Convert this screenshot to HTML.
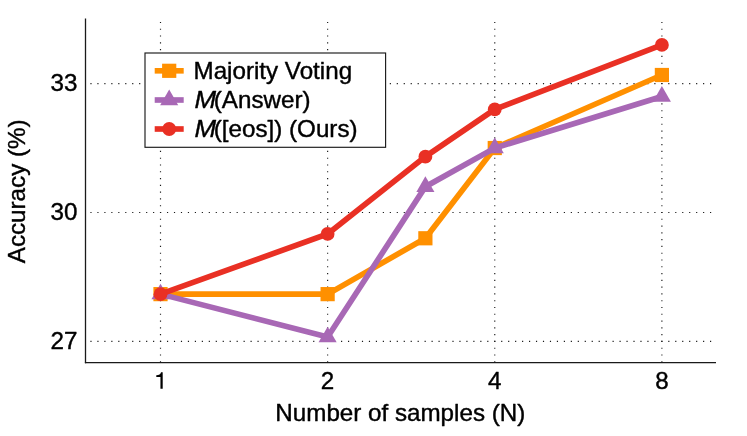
<!DOCTYPE html>
<html><head><meta charset="utf-8"><title>chart</title>
<style>
html,body{margin:0;padding:0;background:#fff;}
body{width:747px;height:436px;overflow:hidden;}
svg{display:block;}
text{font-family:"Liberation Sans",sans-serif;fill:#000;stroke:#000;stroke-width:0.4px;stroke-linejoin:round;}
svg{will-change:transform;}
g.t{opacity:0.999;}
</style></head><body>
<svg width="747" height="436" viewBox="0 0 747 436">
<rect width="747" height="436" fill="#fff"/>
<g stroke="#1a1a1a" fill="none">
<line x1="160.50" y1="362.35" x2="160.50" y2="18.6" stroke-width="1.16" stroke-dasharray="1.13 5.656"/>
<line x1="327.63" y1="362.35" x2="327.63" y2="18.6" stroke-width="1.16" stroke-dasharray="1.13 5.656"/>
<line x1="494.76" y1="362.35" x2="494.76" y2="18.6" stroke-width="1.16" stroke-dasharray="1.13 5.656"/>
<line x1="661.89" y1="362.35" x2="661.89" y2="18.6" stroke-width="1.16" stroke-dasharray="1.13 5.656"/>
<line x1="90.4" y1="341.40" x2="711.3" y2="341.40" stroke-width="1.13" stroke-dasharray="1.16 5.802"/>
<line x1="90.4" y1="212.49" x2="711.3" y2="212.49" stroke-width="1.13" stroke-dasharray="1.16 5.802"/>
<line x1="90.4" y1="83.58" x2="711.3" y2="83.58" stroke-width="1.13" stroke-dasharray="1.16 5.802"/>
</g>
<polyline points="160.50,294.13 327.63,294.13 425.39,238.27 494.76,148.03 661.89,74.99" fill="none" stroke="#FF9000" stroke-width="5.65" stroke-linejoin="miter" stroke-linecap="butt"/>
<rect x="153.40" y="287.03" width="14.20" height="14.20" fill="#FF9000"/>
<rect x="320.53" y="287.03" width="14.20" height="14.20" fill="#FF9000"/>
<rect x="418.29" y="231.17" width="14.20" height="14.20" fill="#FF9000"/>
<rect x="487.66" y="140.93" width="14.20" height="14.20" fill="#FF9000"/>
<rect x="654.79" y="67.89" width="14.20" height="14.20" fill="#FF9000"/>
<polyline points="160.50,294.13 327.63,337.10 425.39,186.71 494.76,148.03 661.89,96.47" fill="none" stroke="#A868B5" stroke-width="5.65" stroke-linejoin="miter" stroke-linecap="butt"/>
<polygon points="160.50,283.68 151.45,299.36 169.55,299.36" fill="#A868B5"/>
<polygon points="327.63,326.65 318.58,342.33 336.68,342.33" fill="#A868B5"/>
<polygon points="425.39,176.26 416.34,191.93 434.44,191.93" fill="#A868B5"/>
<polygon points="494.76,137.58 485.71,153.26 503.81,153.26" fill="#A868B5"/>
<polygon points="661.89,86.02 652.84,101.70 670.94,101.70" fill="#A868B5"/>
<polyline points="160.50,294.13 327.63,233.97 425.39,156.63 494.76,109.36 661.89,44.91" fill="none" stroke="#E93024" stroke-width="5.65" stroke-linejoin="miter" stroke-linecap="butt"/>
<circle cx="160.50" cy="294.13" r="6.90" fill="#E93024"/>
<circle cx="327.63" cy="233.97" r="6.90" fill="#E93024"/>
<circle cx="425.39" cy="156.63" r="6.90" fill="#E93024"/>
<circle cx="494.76" cy="109.36" r="6.90" fill="#E93024"/>
<circle cx="661.89" cy="44.91" r="6.90" fill="#E93024"/>
<line x1="85.5" y1="18.6" x2="85.5" y2="363.15000000000003" stroke="#1a1a1a" stroke-width="1.3"/>
<line x1="84.9" y1="362.55" x2="716" y2="362.55" stroke="#1a1a1a" stroke-width="1.3"/>
<text transform="translate(327.6,389) scale(1.043,1)" font-size="23.2" text-anchor="middle">2</text>
<text transform="translate(494.8,389) scale(1.043,1)" font-size="23.2" text-anchor="middle">4</text>
<text transform="translate(661.9,389) scale(1.043,1)" font-size="23.2" text-anchor="middle">8</text>
<path d="M162.7,372.2 L162.7,388.85 L160.45,388.85 L160.45,376.9 L156.3,376.9 L156.3,375.25 C159,375.25 160.7,374.3 161.05,372.2 Z" fill="#000"/>
<text transform="translate(77.5,349.0) scale(1.043,1)" font-size="23.2" text-anchor="end">27</text>
<text transform="translate(77.5,220.1) scale(1.043,1)" font-size="23.2" text-anchor="end">30</text>
<text transform="translate(77.5,91.2) scale(1.043,1)" font-size="23.2" text-anchor="end">33</text>
<text transform="translate(400.3,420.5) scale(1.043,1)" font-size="23.2" text-anchor="middle">Number of samples (N)</text>
<text transform="translate(25.3,191.3) rotate(-90) scale(1.043,1)" font-size="23.2" text-anchor="middle">Accuracy (%)</text>
<rect x="145.0" y="53.0" width="240.6" height="94.3" fill="#fff" stroke="#1a1a1a" stroke-width="1.15"/>
<line x1="154.7" y1="70.8" x2="183.7" y2="70.8" stroke="#FF9000" stroke-width="5.65"/>
<rect x="162.10" y="63.70" width="14.20" height="14.20" fill="#FF9000"/>
<line x1="154.7" y1="100.0" x2="183.7" y2="100.0" stroke="#A868B5" stroke-width="5.65"/>
<polygon points="169.20,89.55 160.15,105.22 178.25,105.22" fill="#A868B5"/>
<line x1="154.7" y1="129.0" x2="183.7" y2="129.0" stroke="#E93024" stroke-width="5.65"/>
<circle cx="169.20" cy="129.00" r="6.90" fill="#E93024"/>
<text transform="translate(193.5,78.6) scale(1.043,1)" font-size="23.2" text-anchor="start">Majority Voting</text>
<text transform="translate(194.4,107.6) scale(1.116,1)" font-size="23.2" font-style="italic">M</text><text transform="translate(213.8,107.6) scale(1.043,1)" font-size="23.2" text-anchor="start">(Answer)</text>
<text transform="translate(194.4,136.6) scale(1.116,1)" font-size="23.2" font-style="italic">M</text><text transform="translate(213.8,136.6) scale(1.043,1)" font-size="23.2" text-anchor="start">([eos]) (Ours)</text>
</svg></body></html>
